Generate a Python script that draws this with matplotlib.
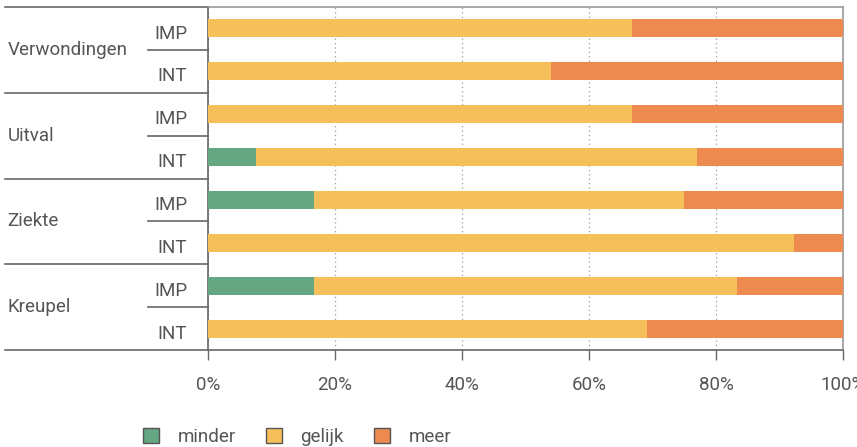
import matplotlib.pyplot as plt
from matplotlib.patches import Patch
from matplotlib.transforms import blended_transform_factory

plt.rcParams['font.family'] = ['Roboto', 'DejaVu Sans']

# data (percent), rows from top to bottom
groups = ['Verwondingen', 'Uitval', 'Ziekte', 'Kreupel']
rows = ['IMP', 'INT']
minder = [0, 0, 0, 7.6, 16.7, 0, 16.7, 0]
gelijk = [66.7, 54.0, 66.7, 69.4, 58.3, 92.3, 66.6, 69.2]
meer = [33.3, 46.0, 33.3, 23.0, 25.0, 7.7, 16.7, 30.8]

c_minder = '#65a783'
c_gelijk = '#f5bf5a'
c_meer = '#ec8a50'
txt = '#555555'
fs = 13.5

fig = plt.figure(figsize=(8.57, 4.47), dpi=100)
ax = fig.add_axes([208 / 857, 1 - 350 / 447, 635 / 857, 343 / 447])

y = list(range(len(minder)))
left2 = [a + b for a, b in zip(minder, gelijk)]
ax.barh(y, minder, height=0.42, color=c_minder, zorder=3)
ax.barh(y, gelijk, left=minder, height=0.42, color=c_gelijk, zorder=3)
ax.barh(y, meer, left=left2, height=0.42, color=c_meer, zorder=3)

ax.set_xlim(0, 100)
ax.set_ylim(len(y) - 0.5, -0.5)
ax.set_xticks([0, 20, 40, 60, 80, 100])
ax.set_xticklabels([f'{v}%' for v in [0, 20, 40, 60, 80, 100]])
ax.tick_params(axis='x', length=7, width=1, color='#666666', pad=12,
               labelsize=fs, labelcolor=txt)
ax.set_yticks([])
ax.grid(axis='x', color='#999999', linestyle=(0, (1, 2.5)), linewidth=0.9, zorder=0)

for s in ['top', 'right']:
    ax.spines[s].set_color('#999999')
for s in ['left', 'bottom']:
    ax.spines[s].set_color('#666666')
for s in ax.spines.values():
    s.set_linewidth(1.2)

tr = blended_transform_factory(ax.transAxes, ax.transData)
x_far = (5 - 208) / 635
x_mid = (148 - 208) / 635
x_lab = (187 - 208) / 635

# group boundary lines
for k in range(len(groups) + 1):
    yy = 2 * k - 0.5
    ax.plot([x_far, 0], [yy, yy], color='#666666', lw=1.2, transform=tr, clip_on=False)
# IMP / INT separator and labels
for g, name in enumerate(groups):
    ax.plot([x_mid, 0], [2 * g + 0.5, 2 * g + 0.5], color='#666666', lw=1.2,
            transform=tr, clip_on=False)
    ax.text(x_far + 0.004, 2 * g + 0.5, name, transform=tr, ha='left', va='center',
            fontsize=fs, color=txt)
    for r, lab in enumerate(rows):
        ax.text(x_lab, 2 * g + r + 0.12, lab, transform=tr, ha='right', va='center',
                fontsize=fs, color=txt)

handles = [Patch(facecolor=c, edgecolor='#555555', linewidth=1) for c in (c_minder, c_gelijk, c_meer)]
fig.legend(handles, ['minder', 'gelijk', 'meer'], loc='lower left',
           bbox_to_anchor=(126 / 857, -0.035), ncol=3, frameon=False,
           handlelength=0.85, handleheight=0.85, handletextpad=1.0, columnspacing=1.6,
           prop={'size': fs}, labelcolor=txt)

fig.savefig('out.png', dpi=100)
